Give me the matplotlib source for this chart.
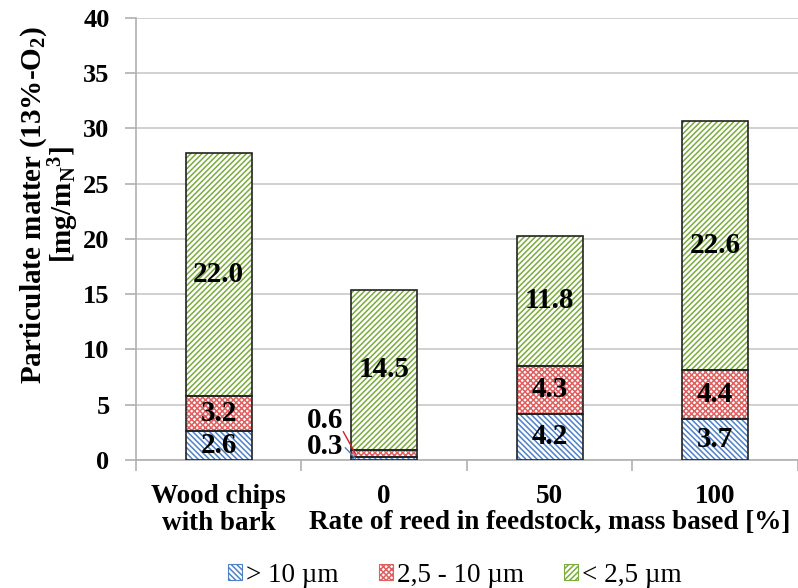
import matplotlib
matplotlib.use("Agg")
import matplotlib.pyplot as plt
from matplotlib.patches import Patch
import numpy as np

plt.rcParams['font.family'] = ['Liberation Serif', 'DejaVu Serif']
plt.rcParams['mathtext.fontset'] = 'custom'
plt.rcParams['mathtext.rm'] = 'Liberation Serif:bold'
plt.rcParams['mathtext.it'] = 'Liberation Serif:bold'
plt.rcParams['mathtext.bf'] = 'Liberation Serif:bold'
plt.rcParams['hatch.linewidth'] = 1.1

categories = ["Wood chips\nwith bark", "0", "50", "100"]
pm_coarse = [2.6, 0.3, 4.2, 3.7]      # > 10 µm
pm_mid = [3.2, 0.6, 4.3, 4.4]         # 2,5 - 10 µm
pm_fine = [22.0, 14.5, 11.8, 22.6]    # < 2,5 µm
series_labels = ["> 10 µm", "2,5 - 10 µm", "< 2,5 µm"]
y_ticks = [0, 5, 10, 15, 20, 25, 30, 35, 40]

colors = ["#4f81c7", "#e06060", "#7aab3c"]
hatches = ["\\\\\\\\\\\\", "xxxxxx", "//////"]

fig = plt.figure(figsize=(7.98, 5.88), dpi=100)
ax = fig.add_axes([0.1704, 0.2177, 0.8296, 0.7517])

x = np.arange(len(categories))
width = 0.4
bottom = np.zeros(len(categories))
for vals, col, hat in zip([pm_coarse, pm_mid, pm_fine], colors, hatches):
    vals = np.array(vals)
    ax.bar(x, vals, width, bottom=bottom, facecolor="white", edgecolor=col,
           hatch=hat, linewidth=0, zorder=3)
    ax.bar(x, vals, width, bottom=bottom, facecolor="none", edgecolor="#222222",
           linewidth=1.2, zorder=4)
    for i, v in enumerate(vals):
        if v >= 1:
            ax.text(x[i], bottom[i] + v / 2, f"{v:.1f}", ha="center", va="center",
                    fontsize=21, fontweight="bold", zorder=5)
    bottom += vals

# small segments of the second bar labelled outside with leader lines
i = 1
ax.text(x[i] - 0.247, 3.6, f"{pm_mid[i]:.1f}", ha="right", va="center",
        fontsize=21, fontweight="bold")
ax.text(x[i] - 0.247, 1.25, f"{pm_coarse[i]:.1f}", ha="right", va="center",
        fontsize=21, fontweight="bold")
ax.plot([x[i] - 0.247, x[i] - 0.175], [2.55, pm_coarse[i] + pm_mid[i] / 2],
        color="#d02020", lw=1, zorder=6)
ax.plot([x[i] - 0.235, x[i] - 0.175], [1.1, pm_coarse[i] / 2],
        color="#4f81c7", lw=1, zorder=6)

ax.set_xlim(-0.5, len(categories) - 0.5)
ax.set_ylim(0, 40)
ax.set_yticks(y_ticks)
ax.set_yticklabels([str(t) for t in y_ticks], fontsize=19, fontweight="bold")
ax.yaxis.grid(True, color="#c8c8c8", lw=1.2, zorder=0)
ax.set_axisbelow(True)

ax.set_xticks(x)
ax.set_xticklabels(categories, fontsize=19.5, fontweight="bold", linespacing=1.1)
ax.tick_params(axis="x", length=0, pad=17)
ax.set_xticks(np.arange(-0.5, len(categories)), minor=True)
ax.tick_params(axis="x", which="minor", length=8, color="#b0b0b0", width=1.2)
ax.tick_params(axis="y", length=8, color="#b0b0b0", width=1.2, pad=11)

for s in ["top", "right"]:
    ax.spines[s].set_visible(False)
for s in ["left", "bottom"]:
    ax.spines[s].set_color("#b0b0b0")
    ax.spines[s].set_linewidth(1.2)

ax.text(2.0, -0.14, "Rate of reed in feedstock, mass based [%]",
        transform=ax.get_xaxis_transform(), ha="center", va="center",
        fontsize=19.5, fontweight="bold")

fig.text(0.062, 0.652, "Particulate matter (13%-O$_2$)\n[mg/m$_{N}$$^{3}$]",
         rotation=90, ha="center", va="center", fontsize=21, fontweight="bold",
         multialignment="center", linespacing=0.9)

handles = [Patch(facecolor="white", edgecolor=c, hatch=h, linewidth=0.8)
           for c, h in zip(colors, hatches)]
fig.legend(handles, series_labels, loc="center", bbox_to_anchor=(0.57, 0.022),
           ncol=3, frameon=False, fontsize=19.5, handlelength=0.5, handleheight=0.5,
           handletextpad=0.15, columnspacing=1.5)

fig.savefig("out.png", dpi=100)
